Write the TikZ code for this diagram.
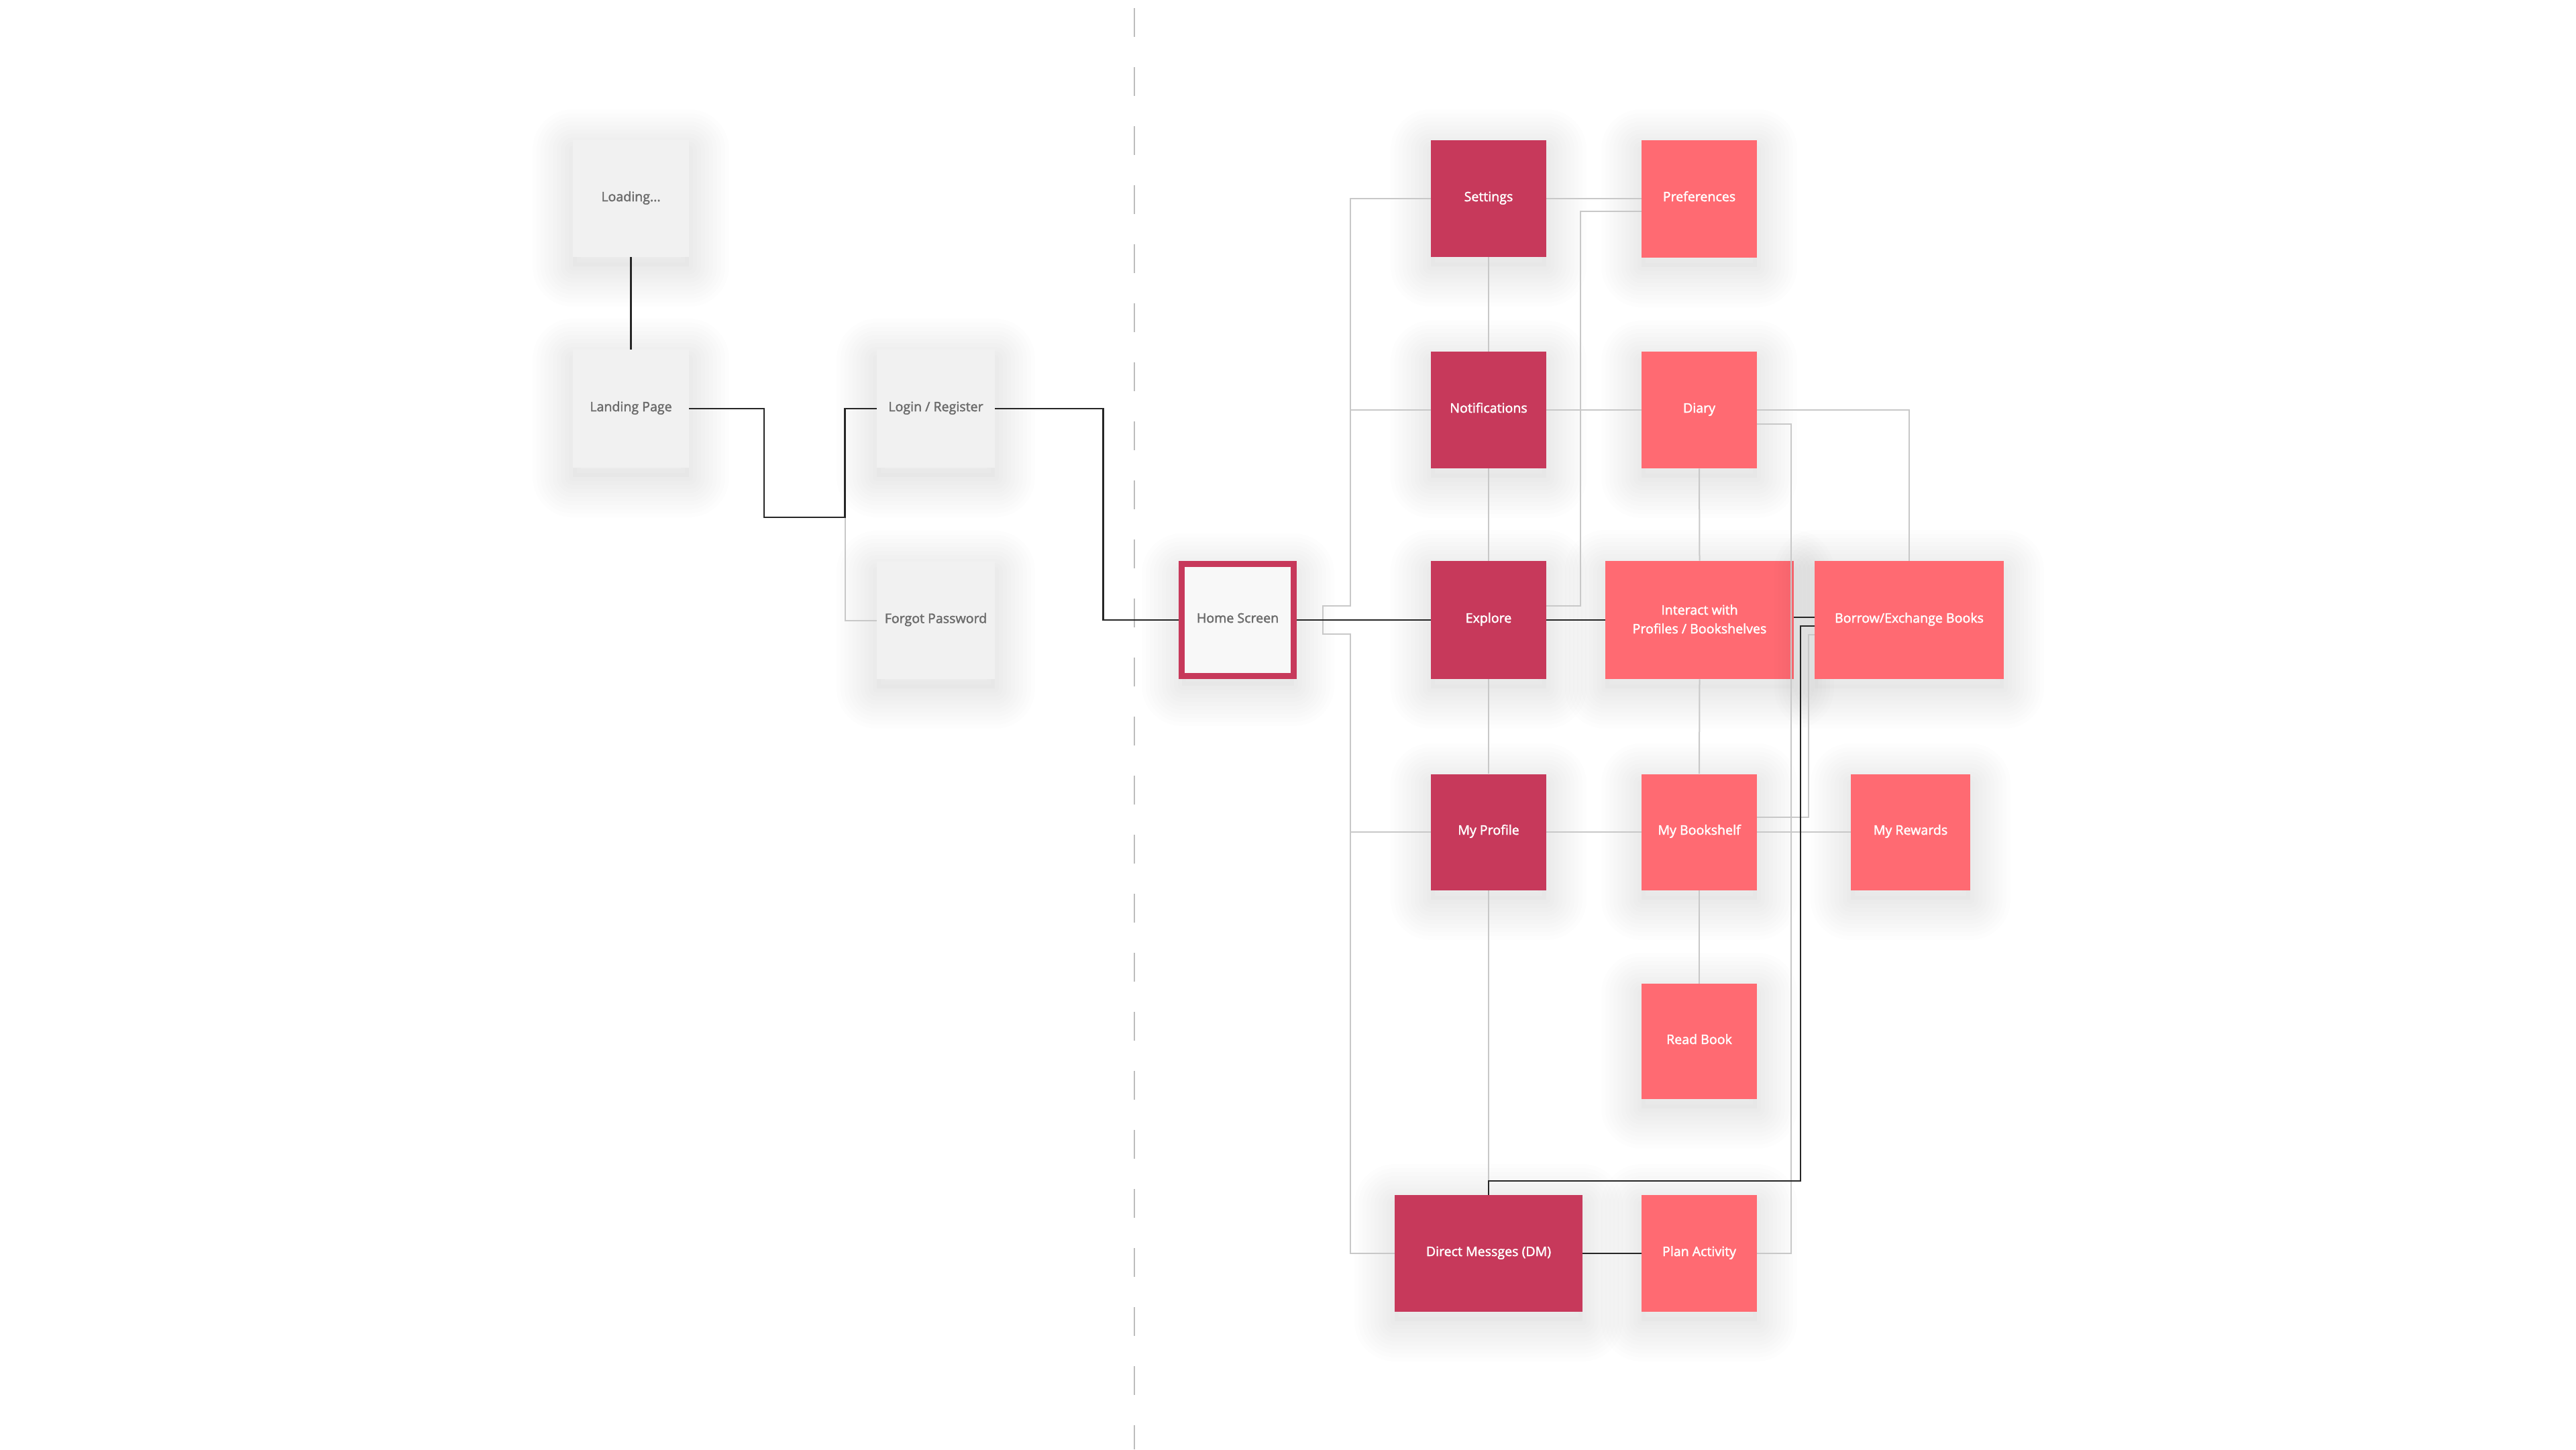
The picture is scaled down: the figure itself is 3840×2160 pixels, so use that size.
\documentclass[tikz,border=0pt]{standalone}
\usepackage{fontspec}
\setmainfont{Open Sans}
\newfontfamily\semib{Open Sans}[FakeBold=2]
\definecolor{darkpink}{HTML}{C7395B}
\definecolor{coral}{HTML}{FF6A72}
\definecolor{boxgrey}{HTML}{F1F1F1}
\definecolor{txtgrey}{HTML}{6B6B6B}
\definecolor{linegrey}{HTML}{C8C8C8}
\definecolor{dashgrey}{HTML}{BDBDBD}
\definecolor{homefill}{HTML}{F8F8F8}
\tikzset{
  shl/.style={preaction={draw=black, draw opacity=0.009, line width=#1, line join=round, transform canvas={yshift=-7pt}}},
  softshadow/.style={
    preaction={fill=black, fill opacity=0.015, transform canvas={yshift=-7pt}},
    shl=6pt, shl=12pt, shl=18pt, shl=24pt, shl=30pt, shl=36pt, shl=42pt, shl=48pt, shl=54pt, shl=60pt},
  card/.style={rectangle, inner sep=0pt, align=center, softshadow,
    text height=7pt, text depth=3pt,
    font=\semib\fontsize{9.8}{14}\selectfont},
  greycard/.style={card, fill=boxgrey, text=txtgrey},
  darkcard/.style={card, fill=darkpink, text=white},
  lightcard/.style={card, fill=coral, text=white},
  homecard/.style={card, fill=homefill, text=txtgrey, draw=darkpink, line width=4.5pt},
  blk/.style={draw=black!85, line width=1.2pt},
  gry/.style={draw=linegrey, line width=1pt},
  dashline/.style={draw=dashgrey, line width=1pt, dash pattern=on 21.5pt off 22.5pt}
}
\begin{document}
\begin{tikzpicture}[x=0.5pt, y=-0.5pt]
\useasboundingbox[fill=white] (0,0) rectangle (3840,2160);
% divider
\coordinate (dtop) at (1691,12);
\coordinate (dbot) at (1691,2160);
\draw[dashline] (dtop) -- (dbot);
% left grey screens
\node[greycard, minimum width=86.5pt, minimum height=87pt] (loading) at (940.5,296) {Loading...};
\node[greycard, minimum width=86.5pt, minimum height=88pt] (landing) at (940.5,609) {Landing Page};
\node[greycard, minimum width=88pt, minimum height=88pt] (login) at (1395,609) {Login / Register};
\node[greycard, minimum width=88pt, minimum height=87.5pt] (forgot) at (1395,924.5) {Forgot Password};
% home
\node[homecard, minimum width=83.5pt, minimum height=83.5pt] (home) at (1845,924) {Home Screen};
% dark column
\node[darkcard, minimum width=86pt, minimum height=87pt] (settings) at (2219,296) {Settings};
\node[darkcard, minimum width=86pt, minimum height=87pt] (notif) at (2219,611) {Notifications};
\node[darkcard, minimum width=86pt, minimum height=88pt] (explore) at (2219,924) {Explore};
\node[darkcard, minimum width=86pt, minimum height=86.5pt] (profile) at (2219,1240) {My Profile};
\node[darkcard, minimum width=140pt, minimum height=87pt] (dm) at (2219,1868) {Direct Messges (DM)};
% coral
\node[lightcard, minimum width=86pt, minimum height=87.5pt] (prefs) at (2533,296) {Preferences};
\node[lightcard, minimum width=86pt, minimum height=87pt] (diary) at (2533,611) {Diary};
\node[lightcard, minimum width=140.5pt, minimum height=88pt, text height=22pt, text depth=2pt] (interact) at (2533.5,924) {Interact with\\Profiles / Bookshelves};
\node[lightcard, minimum width=141pt, minimum height=88pt] (borrow) at (2846,924) {Borrow/Exchange Books};
\node[lightcard, minimum width=86pt, minimum height=86.5pt] (bookshelf) at (2533,1240) {My Bookshelf};
\node[lightcard, minimum width=86pt, minimum height=86pt] (readbook) at (2533,1552) {Read Book};
\node[lightcard, minimum width=86pt, minimum height=87pt] (plan) at (2533,1868) {Plan Activity};
\node[lightcard, minimum width=89pt, minimum height=86.5pt] (rewards) at (2848,1240) {My Rewards};
% helper coordinates
\coordinate (lj) at (1139,609);
\coordinate (lk) at (1259.5,771);
\coordinate (hb) at (1972,924);
\coordinate (hu) at (2013,903);
\coordinate (hd) at (2013,945);
\coordinate (pa) at (2356,903);
\coordinate (y315) at (0,315);
\coordinate (y632) at (0,632);
\coordinate (da) at (2670,632);
\coordinate (y920) at (0,920);
\coordinate (y933) at (0,933);
\coordinate (y946) at (0,946);
\coordinate (y1218) at (0,1218);
\coordinate (ba) at (2696,1218);
\coordinate (ka) at (2684,1760);
% grey connectors
\draw[gry] (lk) |- (forgot.west);
\draw[gry] (hb) |- (hu) |- (settings.west);
\draw[gry] (hu) |- (notif.west);
\draw[gry] (hb) |- (hd) |- (profile.west);
\draw[gry] (hd) |- (dm.west);
\draw[gry] (settings.south) -- (notif.north);
\draw[gry] (notif.south) -- (explore.north);
\draw[gry] (explore.south) -- (profile.north);
\draw[gry] (profile.south) -- (dm.north);
\draw[gry] (settings.east) -- (prefs.west);
\draw[gry] (explore.east |- pa) -- (pa) |- (prefs.west |- y315);
\draw[gry] (notif.east) -- (diary.west);
\draw[gry] (diary.east) -| (borrow.north);
\draw[gry] (diary.east |- y632) -- (da) |- (plan.east);
\draw[gry] (diary.south) -- (interact.north);
\draw[gry] (interact.south) -- (bookshelf.north);
\draw[gry] (bookshelf.south) -- (readbook.north);
\draw[gry] (profile.east) -- (bookshelf.west);
\draw[gry] (bookshelf.east) -- (rewards.west);
\draw[gry] (bookshelf.east |- y1218) -- (ba) |- (borrow.west |- y946);
% black connectors
\draw[blk] (loading.south) -- (landing.north);
\draw[blk] (landing.east) -- (lj) |- (lk) |- (login.west);
\draw[blk] (login.east) -- ++(161,0) |- (home.west);
\draw[blk] (home.east) -- (explore.west);
\draw[blk] (explore.east) -- (interact.west);
\draw[blk] (interact.east |- y920) -- (borrow.west |- y920);
\draw[blk] (dm.north) |- (ka) |- (borrow.west |- y933);
\draw[blk] (dm.east) -- (plan.west);
\end{tikzpicture}
\end{document}
